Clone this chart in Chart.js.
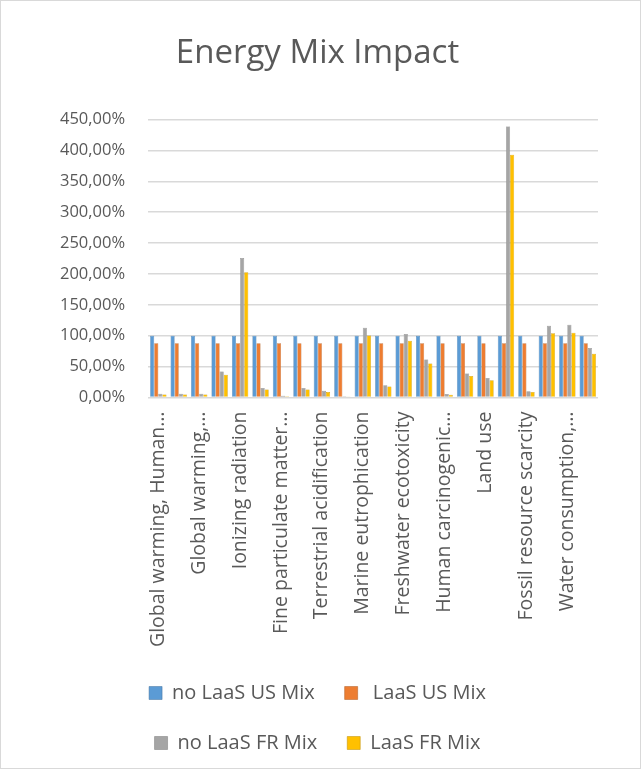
<!DOCTYPE html>
<html>
<head>
<meta charset="utf-8">
<script src="https://cdn.jsdelivr.net/npm/chart.js@4"></script>
<style>
  html, body { margin: 0; padding: 0; background: #fff; }
  #frame { width: 641px; height: 769px; box-sizing: border-box; border: 1px solid #d9d9d9; }
</style>
</head>
<body>
<div id="frame"><canvas id="myChart"></canvas></div>
<script>
// impact categories (ReCiPe), only every other one gets a label in the picture
var categories = [
  'Global warming, Human health', 'Global warming, Terrestrial ecosystems',
  'Global warming, Freshwater ecosystems', 'Stratospheric ozone depletion',
  'Ionizing radiation', 'Ozone formation, Human health',
  'Fine particulate matter formation', 'Ozone formation, Terrestrial ecosystems',
  'Terrestrial acidification', 'Freshwater eutrophication',
  'Marine eutrophication', 'Terrestrial ecotoxicity',
  'Freshwater ecotoxicity', 'Marine ecotoxicity',
  'Human carcinogenic toxicity', 'Human non-carcinogenic toxicity',
  'Land use', 'Mineral resource scarcity',
  'Fossil resource scarcity', 'Water consumption, Human health',
  'Water consumption, Terrestrial ecosystem', 'Water consumption, Aquatic ecosystems'
];
var tickLabels = [
  'Global warming, Human\u2026', '', 'Global warming,\u2026', '', 'Ionizing radiation', '',
  'Fine particulate matter\u2026', '', 'Terrestrial acidification', '', 'Marine eutrophication', '',
  'Freshwater ecotoxicity', '', 'Human carcinogenic\u2026', '', 'Land use', '',
  'Fossil resource scarcity', '', 'Water consumption,\u2026', ''
];
var yTicks = [0, 50, 100, 150, 200, 250, 300, 350, 400, 450];

// values in %
var noLaasUS = [100, 100, 100, 100, 100, 100, 100, 100, 100, 100, 100,
                100, 100, 100, 100, 100, 100, 100, 100, 100, 100, 100];
var laasUS   = [88, 88, 88, 88, 88, 88, 88, 88, 88, 88, 88,
                88, 88, 88, 88, 88, 88, 88, 88, 88, 88, 88];
var noLaasFR = [6, 6, 6, 42, 226, 15.5, 2.7, 15.5, 11, 2, 113,
                20, 103, 61.5, 5.5, 39, 31.5, 439, 10, 116, 118, 80];
var laasFR   = [5, 5, 5, 37, 203, 13, 2, 13, 9, 1.6, 100.5,
                18, 92, 55, 4.5, 35, 28, 393, 9, 104, 105, 71];

var txt = '#595959';
var ctx = document.getElementById('myChart');

new Chart(ctx, {
  type: 'bar',
  data: {
    labels: categories,
    datasets: [
      { label: 'no LaaS US Mix', data: noLaasUS, backgroundColor: '#5B9BD5', borderColor: '#41719C', borderWidth: 0.5 },
      { label: ' LaaS US Mix', data: laasUS, backgroundColor: '#ED7D31', borderColor: '#AE5A21', borderWidth: 0.5 },
      { label: 'no LaaS FR Mix', data: noLaasFR, backgroundColor: '#A5A5A5', borderColor: '#787878', borderWidth: 0.5 },
      { label: 'LaaS FR Mix', data: laasFR, backgroundColor: '#FFC000', borderColor: '#BC8C00', borderWidth: 0.5 }
    ]
  },
  options: {
    responsive: true,
    maintainAspectRatio: false,
    animation: false,
    datasets: { bar: { categoryPercentage: 0.8, barPercentage: 1.0 } },
    layout: { padding: { left: 36, right: 42, top: 0, bottom: 5 } },
    scales: {
      x: {
        grid: { display: false },
        border: { display: false },
        ticks: {
          autoSkip: false,
          maxRotation: 90,
          minRotation: 90,
          padding: 6,
          color: txt,
          font: { family: 'Open Sans', size: 19.5 },
          callback: function (v, i) { return tickLabels[i]; }
        }
      },
      y: {
        min: 0,
        max: 450,
        afterBuildTicks: function (axis) {
          axis.ticks = yTicks.map(function (v) { return { value: v }; });
        },
        grid: { color: '#d9d9d9', lineWidth: 1.5, drawTicks: false },
        border: { display: false },
        ticks: {
          padding: 23,
          color: txt,
          font: { family: 'Open Sans', size: 16.5 },
          callback: function (v) { return v.toFixed(2).replace('.', ',') + '%'; }
        }
      }
    },
    plugins: {
      title: {
        display: true,
        text: 'Energy Mix Impact',
        color: txt,
        font: { family: 'Open Sans', size: 33, weight: 'normal' },
        padding: { top: 33, bottom: 46 }
      },
      legend: {
        position: 'bottom',
        labels: {
          color: txt,
          boxWidth: 13,
          boxHeight: 13,
          padding: 30,
          font: { family: 'Open Sans', size: 20 }
        }
      },
      tooltip: { enabled: false }
    }
  }
});
</script>
</body>
</html>
